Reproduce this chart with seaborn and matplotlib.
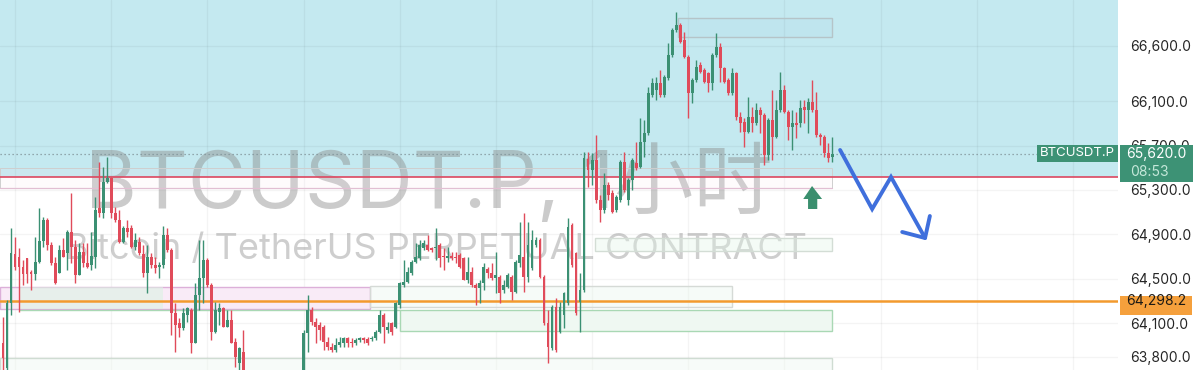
import numpy as np
import seaborn as sns
import matplotlib.pyplot as plt
import matplotlib.transforms as mtransforms
from matplotlib.patches import Rectangle, Polygon

# 1h candles, BTCUSDT perpetual
opens = [63923, 63698, 64283, 64724, 64697, 64607, 64688, 64562, 64544, 64652,
         64841, 65030, 64805, 64643, 64553, 64760, 64733, 64922, 64787, 64535,
         64742, 64643, 64625, 64697, 65138, 65093, 65372, 65408, 65093, 65030,
         64832, 64958, 64958, 64787, 64832, 64724, 64553, 64697, 64625, 64607,
         64625, 64895, 64760, 64193, 64103, 64058, 64175, 64220, 63923, 64355,
         64508, 64670, 64445, 64022, 64202, 64238, 64067, 64130, 63932, 63743,
         63842, 63640, 63560, 63430, 63350, 63280, 63320, 63250, 63300, 63380,
         63340, 63410, 63470, 63440, 63520, 63560, 64013, 64220, 64112, 64085,
         64067, 63932, 63887, 63860, 63905, 63923, 63968, 63932, 63923, 63950,
         63968, 63959, 63959, 63968, 64022, 64175, 64040, 64103, 64067, 64265,
         64445, 64472, 64553, 64652, 64688, 64778, 64805, 64778, 64778, 64805,
         64706, 64688, 64706, 64697, 64715, 64688, 64490, 64562, 64445, 64418,
         64463, 64589, 64553, 64508, 64517, 64400, 64427, 64517, 64382, 64643,
         64697, 64517, 64598, 64805, 64850, 64517, 64103, 63878, 64247, 64022,
         64175, 64283, 64985, 64733, 64292, 64400, 65579, 65480, 65570, 65210,
         65120, 65345, 65273, 65120, 65210, 65552, 65210, 65390, 65543, 65507,
         65732, 65813, 66155, 66200, 66263, 66155, 66308, 66515, 66740, 66785,
         66650, 66497, 66173, 66290, 66425, 66380, 66353, 66263, 66515, 66587,
         66398, 66290, 66173, 66353, 65957, 65912, 65822, 65957, 65903, 66020,
         65975, 65615, 65930, 65777, 66020, 66200, 66002, 65867, 65903, 65903,
         66047, 66020, 66092, 66020, 65795, 65777, 65633, 65597]
highs = [64157, 64310, 64958, 64877, 64778, 64670, 64688, 64580, 64877, 65138,
         65057, 65048, 64832, 64697, 64805, 64868, 64940, 65273, 64850, 64823,
         64823, 64823, 64922, 65237, 65552, 65507, 65597, 65417, 65147, 65120,
         64976, 65030, 64985, 64913, 64877, 64805, 64805, 64733, 64697, 64652,
         64976, 64958, 64778, 64283, 64148, 64238, 64247, 64238, 64463, 64850,
         64850, 64688, 64463, 64292, 64283, 64247, 64220, 64220, 63968, 63887,
         64040, 63650, 63590, 63470, 63400, 63370, 63350, 63340, 63420, 63410,
         63450, 63510, 63500, 63560, 63600, 64040, 64355, 64247, 64148, 64112,
         64085, 63977, 63923, 63968, 63977, 63977, 63977, 63968, 63968, 63977,
         63977, 63977, 63986, 64040, 64220, 64193, 64112, 64112, 64292, 64472,
         64670, 64607, 64670, 64823, 64850, 64850, 64895, 64787, 64958, 64823,
         64778, 64787, 64742, 64742, 64733, 64697, 64697, 64607, 64463, 64490,
         64643, 64607, 64643, 64742, 64535, 64490, 64553, 64535, 64670, 65012,
         65093, 65012, 64940, 64877, 64868, 64535, 64220, 64265, 64328, 64292,
         64382, 65048, 65003, 64742, 64553, 65642, 65642, 65633, 65795, 65255,
         65453, 65372, 65300, 65255, 65570, 65642, 65408, 65588, 65732, 65948,
         65930, 66227, 66308, 66317, 66380, 66335, 66623, 66758, 66902, 66803,
         66722, 66515, 66308, 66470, 66452, 66398, 66362, 66533, 66713, 66623,
         66407, 66308, 66398, 66362, 66002, 65948, 66137, 66047, 66083, 66047,
         65993, 65948, 66200, 66110, 66362, 66245, 66020, 66020, 66002, 66110,
         66110, 66128, 66290, 66182, 65813, 65795, 65723, 65777]
lows = [63600, 63600, 64175, 64580, 64202, 64445, 64463, 64400, 64490, 64643,
        64787, 64760, 64625, 64454, 64553, 64697, 64580, 64643, 64463, 64535,
        64607, 64598, 64580, 64598, 65057, 65048, 65363, 65048, 65012, 64823,
        64823, 64877, 64778, 64760, 64715, 64517, 64373, 64598, 64553, 64508,
        64598, 64742, 63995, 63842, 63977, 64040, 64112, 63833, 63923, 64220,
        64283, 64427, 63950, 64013, 64085, 64067, 64067, 63923, 63707, 63650,
        63590, 63500, 63380, 63300, 63220, 63240, 63190, 63210, 63270, 63300,
        63310, 63380, 63400, 63420, 63480, 63500, 63842, 64085, 63923, 63950,
        63860, 63860, 63842, 63842, 63887, 63887, 63887, 63887, 63905, 63932,
        63923, 63905, 63941, 63950, 64013, 63923, 64013, 63995, 64058, 64238,
        64427, 64463, 64535, 64643, 64670, 64760, 64751, 64742, 64670, 64607,
        64580, 64652, 64670, 64643, 64598, 64490, 64463, 64427, 64265, 64283,
        64400, 64508, 64490, 64373, 64283, 64373, 64418, 64310, 64373, 64607,
        64382, 64472, 64580, 64787, 64508, 64085, 63743, 63860, 63842, 64013,
        64058, 64265, 64607, 64175, 64022, 64382, 65327, 65345, 65183, 65012,
        65093, 65210, 65093, 65102, 65192, 65282, 65165, 65300, 65480, 65498,
        65597, 65795, 66137, 66110, 66137, 66137, 66290, 66497, 66722, 66623,
        66488, 65948, 66083, 66272, 66353, 66263, 66182, 66200, 66497, 66272,
        66263, 66155, 66155, 65930, 65822, 65687, 65813, 65822, 65885, 65813,
        65525, 65570, 65570, 65768, 66002, 65993, 65750, 65660, 65768, 65867,
        65903, 65813, 66002, 65777, 65705, 65597, 65552, 65552]
closes = [63788, 64283, 64733, 64607, 64607, 64544, 64544, 64544, 64652, 64841,
          65030, 64805, 64643, 64463, 64760, 64697, 64922, 64787, 64535, 64742,
          64643, 64607, 64706, 65120, 65093, 65372, 65408, 65093, 65030, 64832,
          64958, 64922, 64787, 64850, 64733, 64553, 64697, 64625, 64598, 64625,
          64895, 64760, 64193, 64085, 64058, 64193, 64238, 63923, 64355, 64508,
          64670, 64445, 64022, 64220, 64238, 64067, 64130, 63923, 63797, 63878,
          63662, 63560, 63430, 63350, 63280, 63320, 63250, 63300, 63380, 63340,
          63410, 63470, 63440, 63520, 63560, 64013, 64220, 64112, 64067, 64040,
          63932, 63887, 63860, 63905, 63932, 63968, 63923, 63923, 63950, 63968,
          63950, 63923, 63968, 64022, 64175, 64067, 64067, 64022, 64283, 64463,
          64472, 64562, 64652, 64697, 64805, 64823, 64760, 64760, 64787, 64688,
          64697, 64706, 64688, 64688, 64607, 64490, 64562, 64445, 64418, 64463,
          64607, 64553, 64508, 64535, 64373, 64445, 64535, 64382, 64652, 64715,
          64517, 64805, 64850, 64850, 64517, 64103, 63887, 64247, 63860, 64247,
          64373, 64967, 64625, 64193, 64400, 65588, 65480, 65570, 65210, 65120,
          65345, 65255, 65102, 65237, 65552, 65300, 65390, 65570, 65498, 65732,
          65813, 66173, 66263, 66263, 66155, 66317, 66515, 66740, 66785, 66632,
          66497, 66173, 66290, 66407, 66362, 66272, 66263, 66515, 66587, 66398,
          66272, 66173, 66353, 65957, 65903, 65822, 65957, 65903, 66020, 65975,
          65615, 65930, 65777, 66020, 66200, 66002, 65867, 65903, 65885, 66038,
          66020, 66092, 66020, 65795, 65777, 65633, 65588, 65620]

price_ticks = [66600, 66100, 65700, 65300, 64900, 64500, 64100, 63800]
last_price = 65620.0
last_time = "08:53"
level_price = 64298.2
zone_price = 65417
symbol = "BTCUSDT.P"
watermark_1 = "BTCUSDT.P, 1小时"
watermark_2 = "Bitcoin / TetherUS PERPETUAL CONTRACT"

# projected path (candle index, price)
path_x = [208.9, 216.9, 221.6, 230.1]
path_y = [65660, 65129, 65417, 64868]

GREEN = "#3b9073"
RED = "#e04b5a"
CYAN = "#c4e9f0"

sns.set_theme(style="white")
plt.rcParams['font.family'] = ['Inter', 'Noto Sans CJK SC', 'DejaVu Sans']

fig = plt.figure(figsize=(12, 3.7), dpi=100)
ax = fig.add_axes([0, 0, 1118 / 1200, 1])
ax.set_xlim(-0.75, 278.25)
ax.set_ylim(63680, 67010)

o = np.array(opens, float)
h = np.array(highs, float)
l = np.array(lows, float)
c = np.array(closes, float)
x = np.arange(len(c))
cols = np.where(c >= o, GREEN, RED)

# background zone + grid
ax.axhspan(zone_price, 67010, color=CYAN, zorder=0, lw=0)
for v in np.arange(3, 278, 24):
    ax.axvline(v, color=(0, 0, 0, 0.045), lw=1, zorder=0.5)
for v in price_ticks:
    ax.axhline(v, color=(0, 0, 0, 0.045), lw=1, zorder=0.5)

# watermark
ax.text(20.5, 65140, watermark_1, fontsize=57, color="#8c8c8c", alpha=0.45,
        ha="left", va="baseline", zorder=1)
ax.text(15.5, 64679, watermark_2, fontsize=26, color="#8c8c8c", alpha=0.42,
        ha="left", va="baseline", zorder=1)

# drawn zones
def box(x0, x1, y0, y1, fc, ec, lw=1.0):
    ax.add_patch(Rectangle((x0, y0), x1 - x0, y1 - y0, fc=fc, ec=ec, lw=lw, zorder=1.5))

box(168.5, 207, 66677, 66848, (0.55, 0.75, 0.85, 0.08), "#b5c4c8")
box(-0.75, 207, 65318, 65498, (0.97, 0.88, 0.93, 0.12), "#cfcfcf", 0.7)
ax.plot([-0.75, 207], [65318, 65318], color="#e2bfd3", lw=0.9, zorder=1.6)
box(147.7, 207, 64751, 64868, (0.88, 0.96, 0.90, 0.35), "#d3ddd5")
box(-0.75, 91.6, 64229, 64427, "#f9ebf7", "#dcb0d9")
box(4.2, 40, 64229, 64427, (0.86, 0.95, 0.89, 0.6), "none")
ax.plot([4.2, 99.1], [64220, 64220], color="#a9d8b4", lw=1, zorder=1.6)
box(91.6, 182, 64247, 64436, (0.90, 0.96, 0.92, 0.35), "#d5dad6")
box(99.1, 207, 64031, 64220, "#eff8f2", "#a9d8b4")
box(-0.75, 207, 63500, 63788, (0.93, 0.97, 0.94, 0.4), "#cfdcd2")

# levels
ax.axhline(zone_price, color="#dc4760", lw=1.2, zorder=2)
ax.axhline(level_price, color="#f39a2e", lw=1.8, zorder=2)
ax.axhline(last_price, xmax=1037 / 1118, color="#7f9298", lw=0.9,
           ls=(0, (1, 2.2)), zorder=2)

# candles
ax.vlines(x, l, h, colors=cols, lw=1, zorder=3)
body_lo = np.minimum(o, c)
body_h = np.maximum(np.abs(c - o), 10)
ax.bar(x, body_h, bottom=body_lo, width=0.72, color=cols, lw=0, zorder=4)

# projection arrow
ax.plot(path_x, path_y, color="#3f6fdc", lw=2.8, solid_joinstyle="miter",
        solid_capstyle="round", zorder=5)
ax.plot([224.4, 230.1, 231.3], [64922, 64868, 65066], color="#3f6fdc", lw=2.8,
        solid_capstyle="round", zorder=5)

# green up marker
ax.add_patch(Polygon([(201.9, 65336), (204.4, 65219), (203.2, 65219), (203.2, 65129),
                      (200.9, 65129), (200.9, 65219), (199.7, 65219)],
                     closed=True, fc="#3a8f6e", ec="none", zorder=5))

# price scale
ax.yaxis.tick_right()
ax.set_yticks(price_ticks)
ax.set_yticklabels([f"{v:,.1f}" for v in price_ticks])
ax.tick_params(axis="y", length=0, pad=9, labelsize=10, labelcolor="#262626")
ax.set_xticks([])
sns.despine(ax=ax, left=True, bottom=True, right=True, top=True)
ax.grid(False)

tr = mtransforms.blended_transform_factory(ax.transAxes, ax.transData)
TAG = "#3d9275"
ax.add_patch(Rectangle((1037 / 1118, 65552), 81 / 1118, 153, transform=tr,
                       fc=TAG, ec="none", zorder=6, clip_on=False))
ax.text(1077 / 1118, 65629, symbol, transform=tr, color="white", fontsize=9.5,
        ha="center", va="center", zorder=7, clip_on=False)
ax.add_patch(Rectangle((1120 / 1118, 65372), 73 / 1118, 333, transform=tr,
                       fc=TAG, ec="none", zorder=6, clip_on=False))
ax.text(1156 / 1118, 65624, f"{last_price:,.1f}", transform=tr, color="white",
        fontsize=10, ha="center", va="center", zorder=7, clip_on=False)
ax.text(1149 / 1118, 65462, last_time, transform=tr, color="#c5e8da",
        fontsize=10, ha="center", va="center", zorder=7, clip_on=False)
ax.add_patch(Rectangle((1120 / 1118, 64175), 72 / 1118, 171, transform=tr,
                       fc="#f5a03c", ec="none", zorder=6, clip_on=False))
ax.text(1156 / 1118, 64297, f"{level_price:,.1f}", transform=tr, color="#1e1a14",
        fontsize=10, ha="center", va="center", zorder=7, clip_on=False)

fig.savefig("out.png", dpi=100)
